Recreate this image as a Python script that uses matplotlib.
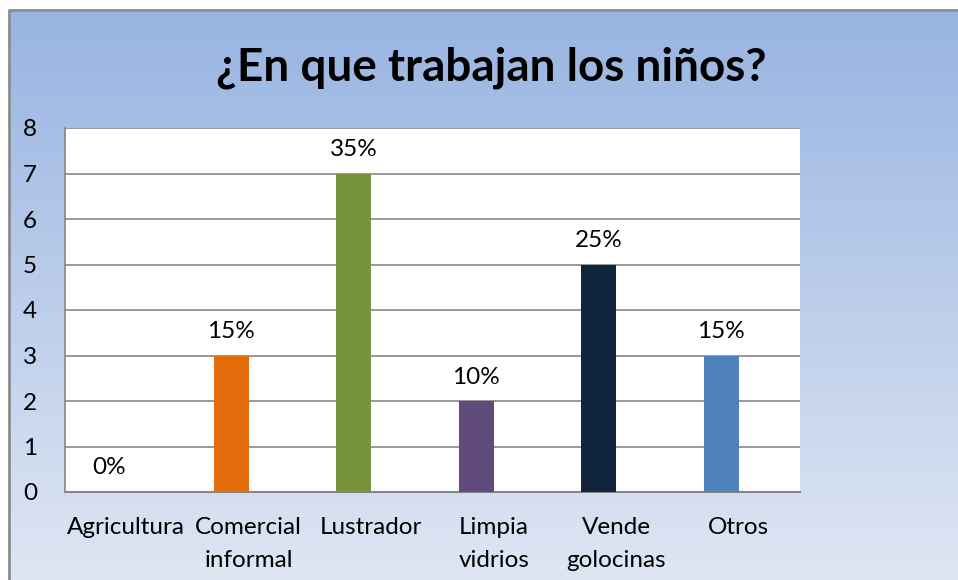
import numpy as np
import matplotlib.pyplot as plt
from matplotlib.colors import LinearSegmentedColormap

# datos del grafico
categorias = ["Agricultura", "Comercial\ninformal", "Lustrador", "Limpia\nvidrios",
              "Vende\ngolocinas", "Otros"]
ninos = [0, 3, 7, 2, 5, 3]
porcentajes = ["0%", "15%", "35%", "10%", "25%", "15%"]
colores = ["#4F81BD", "#E46C0A", "#77933C", "#604A7B", "#10243E", "#4F81BD"]
y_ticks = [0, 1, 2, 3, 4, 5, 6, 7, 8]

W, H = 958, 580
fig = plt.figure(figsize=(W / 100, H / 100), dpi=100)
fig.patch.set_facecolor("white")
font = ["Lato", "DejaVu Sans"]

# fondo degradado del area del grafico
bg = fig.add_axes([0, 0, 1, 1])
bg.set_xlim(0, W)
bg.set_ylim(H, 0)
bg.axis("off")
cmap = LinearSegmentedColormap.from_list("fondo", ["#98B4E2", "#DFE6F3"])
grad = np.linspace(0, 1, 256).reshape(-1, 1)
bg.imshow(grad, cmap=cmap, extent=[9, W, H, 10], aspect="auto")
bg.plot([9, 9, W], [H, 10, 10], color="#8C8C8C", lw=2)

ax = fig.add_axes([65 / W, 1 - 492 / H, 735 / W, 364 / H])
x = np.arange(len(categorias))
ancho = 0.286
xb = x - ancho / 2  # primera serie de dos (la segunda vacia)
ax.bar(xb, ninos, width=ancho, color=colores, zorder=3)
ax.set_xlim(-0.5, len(categorias) - 0.5)
ax.set_ylim(0, 8)
ax.set_yticks(y_ticks)
ax.yaxis.grid(True, color="#868686", lw=1.2, zorder=0)
ax.set_axisbelow(True)
for s in ["top", "right"]:
    ax.spines[s].set_visible(False)
ax.spines["left"].set_color("#868686")
ax.spines["bottom"].set_color("#868686")
ax.spines["left"].set_linewidth(1.2)
ax.spines["bottom"].set_linewidth(1.5)
ax.tick_params(length=0, labelsize=17.5)
ax.tick_params(axis="y", pad=20)
ax.tick_params(axis="x", pad=18)
ax.set_xticks(x)
ax.set_xticklabels(categorias, family=font, linespacing=1.7)
for lb in ax.get_yticklabels():
    lb.set_family(font)

for xi, v, p in zip(xb, ninos, porcentajes):
    ax.annotate(p, (xi, v), xytext=(0, 24), textcoords="offset pixels",
                ha="center", va="center", fontsize=17.5, family=font)

fig.text(491 / W, 1 - 68 / H, "¿En que trabajan los niños?", ha="center", va="center",
         fontsize=33, fontweight="bold", family=font)

fig.savefig("out.png", dpi=100)
